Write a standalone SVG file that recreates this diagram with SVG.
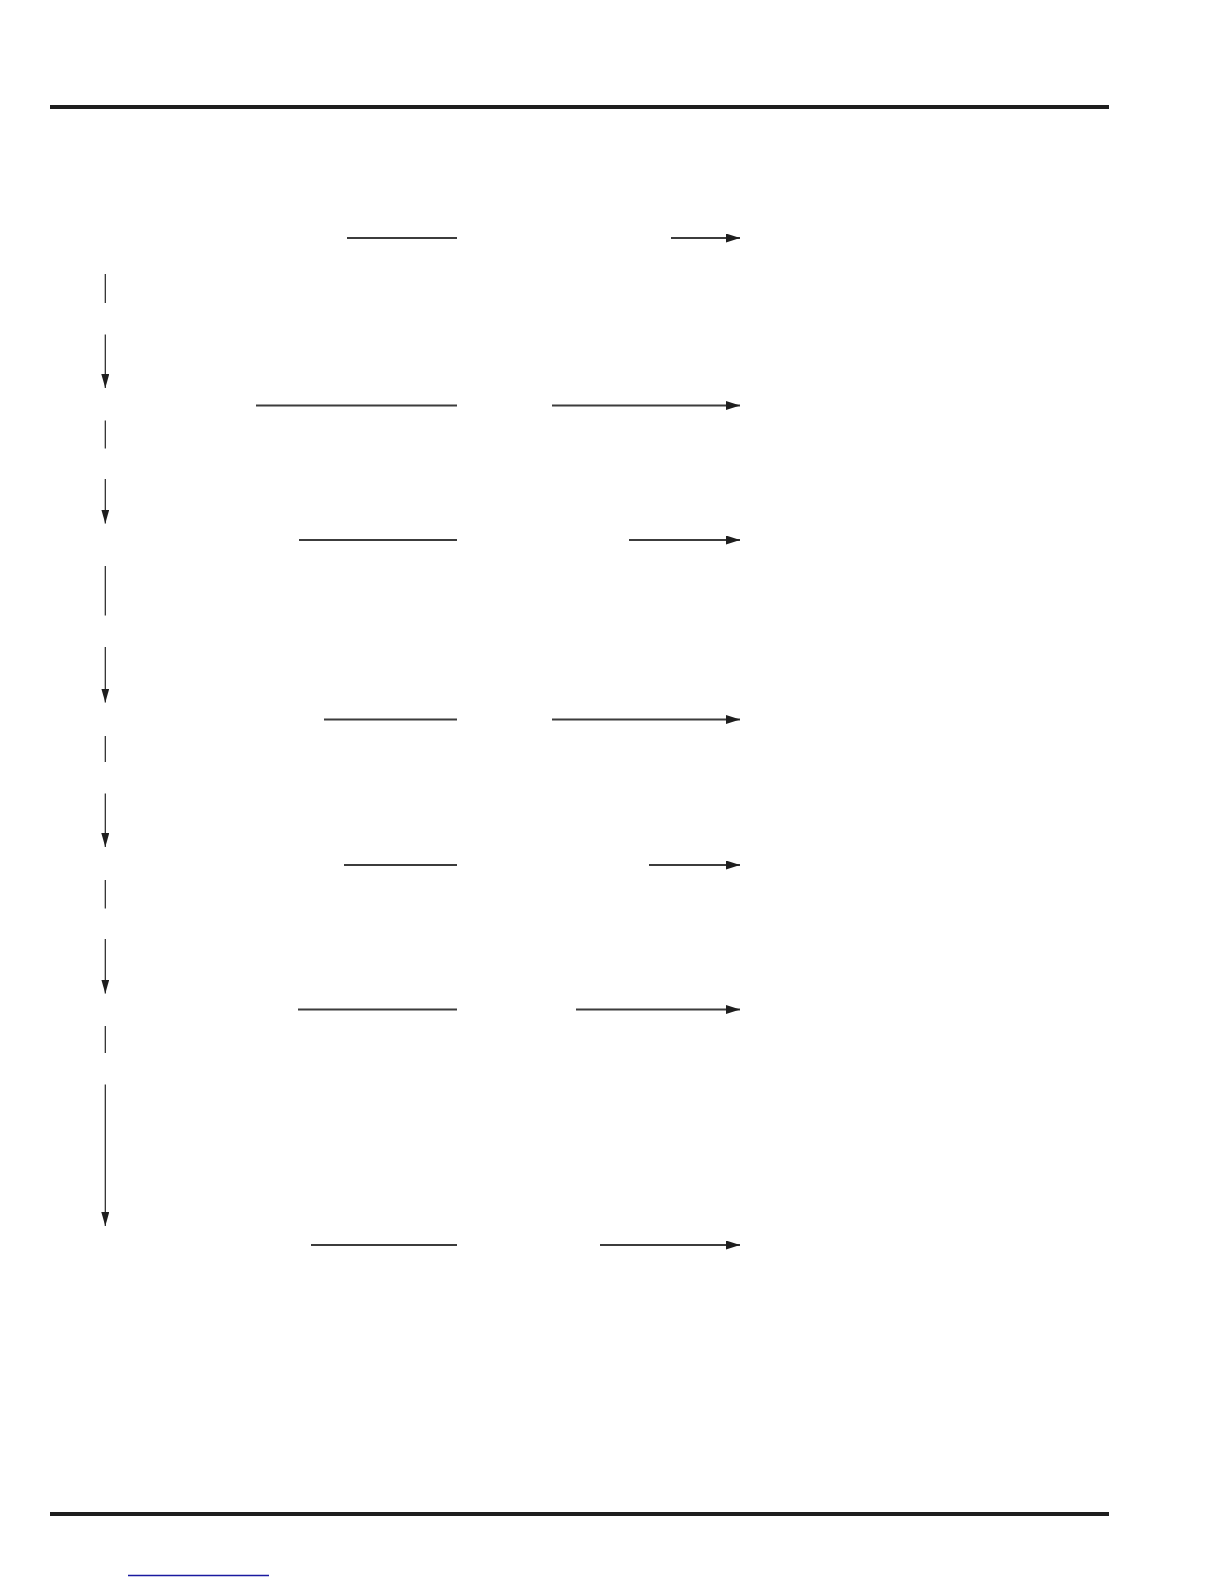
<svg xmlns="http://www.w3.org/2000/svg" width="1224" height="1584" viewBox="0 0 1224 1584">
<style>
.rule{stroke:#1e1e1e;stroke-width:4;fill:none}
.h{stroke:#3c3c3c;stroke-width:2;fill:none}
.ha{stroke:#3c3c3c;stroke-width:2;fill:none;marker-end:url(#ah)}
.v{stroke:#222;stroke-width:1.2;fill:none}
.va{stroke:#222;stroke-width:1.2;fill:none;marker-end:url(#av)}
.link{stroke:#1a1aa0;stroke-width:1.3;fill:none}
</style>
<defs>
<marker id="ah" viewBox="0 0 14 9" refX="14" refY="4.5" markerWidth="14" markerHeight="9" markerUnits="userSpaceOnUse" orient="auto">
<path d="M0,0 L14,4.5 L0,9 z" fill="#1e1e1e"/>
</marker>
<marker id="av" viewBox="0 0 14 8" refX="14" refY="4" markerWidth="14" markerHeight="8" markerUnits="userSpaceOnUse" orient="auto">
<path d="M0,0 L14,4 L0,8 z" fill="#1e1e1e"/>
</marker>
</defs>
<rect width="1224" height="1584" fill="#fff"/>
<g id="page-rules">
<line class="rule" x1="50" y1="107" x2="1109" y2="107"/>
<line class="rule" x1="50" y1="1514" x2="1109" y2="1514"/>
<line class="link" x1="128" y1="1575.5" x2="269" y2="1575.5"/>
</g>
<g id="connectors">
<g id="row-lines">
<line class="h" x1="347" y1="238" x2="457" y2="238"/>
<line class="ha" x1="671" y1="238" x2="740" y2="238"/>
<line class="h" x1="256" y1="405.5" x2="457" y2="405.5"/>
<line class="ha" x1="552" y1="405.5" x2="740" y2="405.5"/>
<line class="h" x1="299" y1="540" x2="457" y2="540"/>
<line class="ha" x1="629" y1="540" x2="740" y2="540"/>
<line class="h" x1="324" y1="719.5" x2="457" y2="719.5"/>
<line class="ha" x1="552" y1="719.5" x2="740" y2="719.5"/>
<line class="h" x1="344" y1="865" x2="457" y2="865"/>
<line class="ha" x1="649" y1="865" x2="740" y2="865"/>
<line class="h" x1="298" y1="1009.5" x2="457" y2="1009.5"/>
<line class="ha" x1="576" y1="1009.5" x2="740" y2="1009.5"/>
<line class="h" x1="311" y1="1245" x2="457" y2="1245"/>
<line class="ha" x1="600" y1="1245" x2="740" y2="1245"/>
</g>
<g id="flow-column">
<line class="v" x1="105.3" y1="274" x2="105.3" y2="303"/>
<line class="va" x1="105.3" y1="334.5" x2="105.3" y2="388"/>
<line class="v" x1="105.3" y1="420.5" x2="105.3" y2="448.5"/>
<line class="va" x1="105.3" y1="479" x2="105.3" y2="523.5"/>
<line class="v" x1="105.3" y1="566" x2="105.3" y2="615.5"/>
<line class="va" x1="105.3" y1="647" x2="105.3" y2="702.5"/>
<line class="v" x1="105.3" y1="736" x2="105.3" y2="762"/>
<line class="va" x1="105.3" y1="793.5" x2="105.3" y2="847"/>
<line class="v" x1="105.3" y1="880" x2="105.3" y2="908.5"/>
<line class="va" x1="105.3" y1="939" x2="105.3" y2="993.5"/>
<line class="v" x1="105.3" y1="1026" x2="105.3" y2="1053"/>
<line class="va" x1="105.3" y1="1084.5" x2="105.3" y2="1226"/>
</g>
</g>
</svg>
